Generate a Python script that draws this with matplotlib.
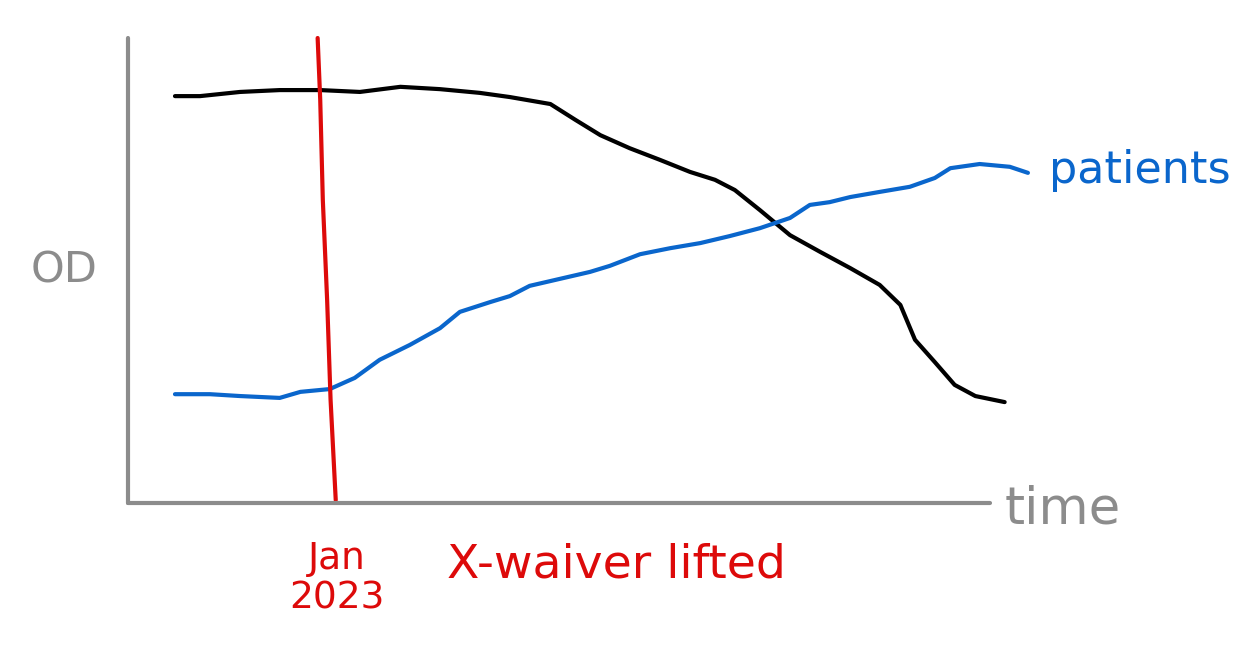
import matplotlib
matplotlib.use("Agg")
import matplotlib.pyplot as plt

# hand-drawn sketch: time (0-100) vs OD (0-100), arbitrary units
od_time = [5.45, 8.35, 13.0, 17.6, 22.3, 26.9, 31.6, 36.2, 40.8, 44.3, 49.0,
           51.9, 54.8, 58.2, 61.7, 65.2, 68.1, 70.4, 73.3, 76.8, 80.3, 83.8,
           87.2, 89.6, 91.3, 93.6, 95.9, 98.3, 101.7]
od_values = [87.5, 87.5, 88.4, 88.8, 88.8, 88.4, 89.5, 89.0, 88.2, 87.3, 85.8,
             82.4, 79.1, 76.3, 73.8, 71.2, 69.5, 67.3, 63.0, 57.6, 54.0, 50.5,
             46.9, 42.6, 35.1, 30.3, 25.4, 23.0, 21.7]

patients_time = [5.45, 9.5, 13.0, 17.6, 20.0, 23.4, 26.3, 29.2, 32.7, 36.2,
                 38.5, 42.0, 44.3, 46.6, 50.1, 53.6, 55.9, 59.4, 62.9, 66.4,
                 69.8, 73.3, 76.8, 79.1, 81.4, 83.8, 87.2, 90.7, 93.6, 95.4,
                 98.8, 102.3, 104.4]
patients_values = [23.4, 23.4, 23.0, 22.6, 23.9, 24.5, 26.9, 30.8, 34.0, 37.6,
                   41.1, 43.2, 44.5, 46.7, 48.2, 49.7, 51.0, 53.5, 54.8, 55.9,
                   57.4, 59.1, 61.3, 64.1, 64.7, 65.8, 66.9, 68.0, 69.9, 72.0,
                   72.9, 72.3, 71.0]

# the red "Jan 2023" marker, drawn slightly slanted
event_time = [22.0, 22.3, 22.6, 23.1, 23.5, 24.1]
event_values = [100.0, 86.7, 65.2, 43.7, 22.2, 0.6]

GREY = "#8c8c8c"
BLUE = "#0a66cc"
RED = "#dd0a0a"

fig = plt.figure(figsize=(12.53, 6.6), dpi=100)
ax = fig.add_axes([128 / 1253, 157 / 660, 862 / 1253, 465 / 660])
ax.set_xlim(0, 100)
ax.set_ylim(0, 100)

for side in ["top", "right"]:
    ax.spines[side].set_visible(False)
for side in ["left", "bottom"]:
    ax.spines[side].set_color(GREY)
    ax.spines[side].set_linewidth(3)
    ax.spines[side].set_capstyle("round")
ax.set_xticks([])
ax.set_yticks([])

ax.plot(od_time, od_values, color="black", lw=3, solid_capstyle="round",
        solid_joinstyle="round", clip_on=False)
ax.plot(patients_time, patients_values, color=BLUE, lw=3,
        solid_capstyle="round", solid_joinstyle="round", clip_on=False)
ax.plot(event_time, event_values, color=RED, lw=3, solid_capstyle="round",
        solid_joinstyle="round", clip_on=False)

ax.text(-3.5, 50.1, "OD", color=GREY, fontsize=31, ha="right", va="center")
ax.text(101.7, -1.5, "time", color=GREY, fontsize=37, ha="left",
        va="center")
ax.text(106.8, 71.5, "patients", color=BLUE, fontsize=32, ha="left",
        va="center")
ax.text(24.2, -16.3, "Jan\n2023", color=RED, fontsize=27, ha="center",
        va="center", linespacing=1.1)
ax.text(56.7, -13.3, "X-waiver lifted", color=RED, fontsize=34, ha="center",
        va="center")

fig.savefig("out.png", dpi=100)
